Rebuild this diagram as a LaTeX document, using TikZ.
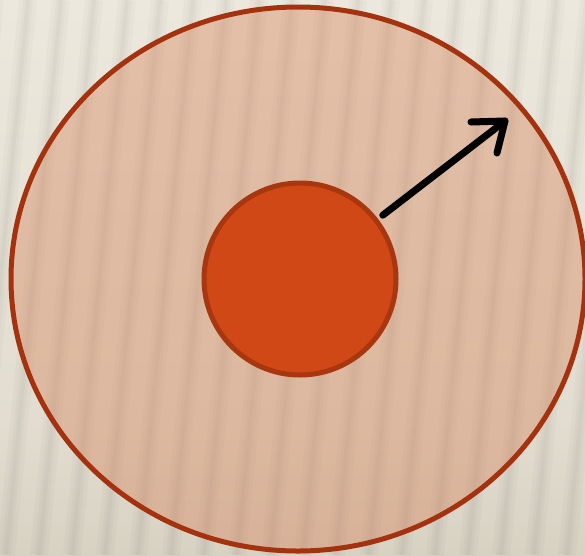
\documentclass[tikz,border=0pt]{standalone}
\usetikzlibrary{shapes.geometric}
\definecolor{bgtop}{HTML}{ECE8DD}
\definecolor{bgmid}{HTML}{E2DDD0}
\definecolor{bgbot}{HTML}{D8D2C3}
\definecolor{veil}{RGB}{214,126,83}
\definecolor{rim}{HTML}{A5320E}
\definecolor{corefill}{HTML}{D04816}
\definecolor{corerim}{HTML}{A8360F}
\tikzset{
  outerdisk/.style={ellipse, draw=rim, line width=5pt, fill=veil, fill opacity=0.38, draw opacity=1, inner sep=0pt},
  coredisk/.style={circle, draw=corerim, line width=5pt, fill=corefill, inner sep=0pt, minimum size=192pt},
  stripewide/.style={line width=18pt, black, opacity=0.02},
  stripemid/.style={line width=10pt, black, opacity=0.02},
  stripenarrow/.style={line width=4pt, black, opacity=0.025},
  pointer/.style={line width=7pt, black, line cap=round, line join=round}
}
\begin{document}
\begin{tikzpicture}[x=1pt,y=-1pt]
\useasboundingbox (0,0) rectangle (585,555);
% background
\shade[top color=bgtop, bottom color=bgmid] (0,0) rectangle (585,420);
\shade[top color=bgmid, bottom color=bgbot] (0,420) rectangle (585,555);
\begin{scope}
\clip (0,0) rectangle (585,555);
\foreach \x in {-60,-27,...,640} {
  \draw[stripewide] (\x,555) -- (\x+55,0);
  \draw[stripemid] (\x,555) -- (\x+55,0);
  \draw[stripenarrow] (\x,555) -- (\x+55,0);
}
\end{scope}
% disks
\node[outerdisk, minimum width=574pt, minimum height=544pt] (outer) at (298,279) {};
\node[coredisk] (core) at (300,279) {};
% arrow
\coordinate (tip) at (505,121);
\coordinate (barbL) at (471,122);
\coordinate (barbD) at (497,153);
\draw[pointer, shorten <=6pt] (core) -- (tip);
\draw[pointer] (barbL) -- (tip) -- (barbD);
\end{tikzpicture}
\end{document}
